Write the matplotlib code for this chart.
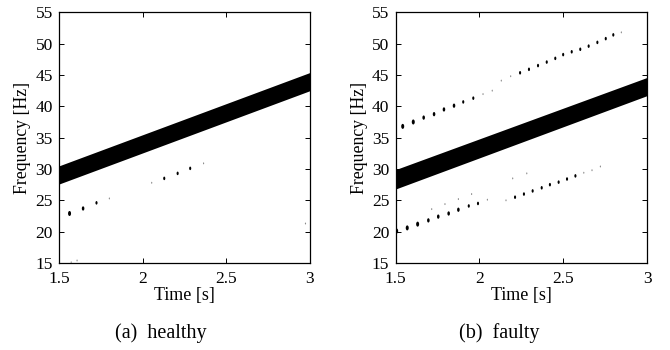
import numpy as np
import matplotlib
matplotlib.use("Agg")
import matplotlib.pyplot as plt
from matplotlib.markers import MarkerStyle
from matplotlib.transforms import Affine2D

plt.rcParams['font.family'] = ['Liberation Serif', 'DejaVu Serif']

# ---- data ----
band_t = [1.5, 3.0]
healthy_band_low = [27.6, 42.5]
healthy_band_high = [30.5, 45.4]
faulty_band_low = [26.8, 41.7]
faulty_band_high = [29.9, 44.6]

healthy_dot_t = [1.563, 1.644, 1.724, 1.801, 2.054, 2.129, 2.209, 2.284, 2.364, 1.573, 1.608, 2.973]
healthy_dot_f = [22.9, 23.7, 24.6, 25.3, 27.8, 28.5, 29.3, 30.1, 30.9, 15.1, 15.4, 21.3]
healthy_dot_amp = [4, 3, 2, 1, 1, 2, 2, 2, 1, 1, 1, 1]

faulty_upper_t = [1.543, 1.606, 1.668, 1.73, 1.789, 1.849, 1.904, 1.964, 2.022, 2.077, 2.131, 2.187,
                  2.243, 2.296, 2.35, 2.402, 2.453, 2.50, 2.551, 2.602, 2.652, 2.704, 2.754, 2.799, 2.847]
faulty_upper_f = [36.8, 37.5, 38.2, 38.75, 39.5, 40.1, 40.7, 41.3, 41.95, 42.5, 44.1, 44.8,
                  45.35, 45.9, 46.5, 47.06, 47.65, 48.25, 48.7, 49.1, 49.6, 50.2, 50.8, 51.4, 51.8]
faulty_upper_amp = [4, 4, 3, 3, 3, 3, 2, 2, 1, 1, 1, 1, 2, 2, 2, 2, 2, 2, 2, 2, 2, 2, 2, 2, 1]

faulty_lower_t = [1.507, 1.570, 1.632, 1.696, 1.755, 1.817, 1.875, 1.937, 1.992, 2.048, 2.159, 2.213,
                  2.266, 2.318, 2.372, 2.421, 2.473, 2.523, 2.573, 2.623, 2.672, 2.722]
faulty_lower_f = [20.1, 20.6, 21.2, 21.8, 22.4, 22.9, 23.5, 24.1, 24.5, 25.1, 25.0, 25.5,
                  26.0, 26.5, 27.0, 27.5, 27.9, 28.4, 28.9, 29.4, 29.8, 30.4]
faulty_lower_amp = [4, 4, 4, 3, 3, 3, 3, 2, 2, 1, 1, 2, 2, 2, 2, 2, 2, 2, 2, 1, 1, 1]

faulty_faint_t = [1.716, 1.795, 1.875, 1.954, 2.199, 2.283]
faulty_faint_f = [23.6, 24.4, 25.2, 26.0, 28.5, 29.3]
faulty_faint_amp = [1, 1, 1, 1, 1, 1]

xticks = [1.5, 2, 2.5, 3]
xticklabels = ["1.5", "2", "2.5", "3"]
yticks = [15, 20, 25, 30, 35, 40, 45, 50, 55]
captions = ["(a)  healthy", "(b)  faulty"]

# ---- style ----
size_map = {1: 2.0, 2: 6.5, 3: 9.5, 4: 13.0}
color_map = {1: '#8a8a8a', 2: 'black', 3: 'black', 4: 'black'}
ell = MarkerStyle('o', transform=Affine2D().scale(0.6, 1.0))


def draw_dots(ax, t, f, amp):
    s = [size_map[a] for a in amp]
    c = [color_map[a] for a in amp]
    ax.scatter(t, f, s=s, c=c, marker=ell, linewidths=0, zorder=3, clip_on=True)


fig = plt.figure(figsize=(6.7, 3.5), dpi=100)
ax1 = fig.add_axes([59 / 670, 1 - 263 / 350, (310 - 59) / 670, (263 - 12.3) / 350])
ax2 = fig.add_axes([395.5 / 670, 1 - 263 / 350, (647 - 395.5) / 670, (263 - 12.3) / 350])

ax1.fill_between(band_t, healthy_band_low, healthy_band_high, color='black', linewidth=0)
draw_dots(ax1, healthy_dot_t, healthy_dot_f, healthy_dot_amp)

ax2.fill_between(band_t, faulty_band_low, faulty_band_high, color='black', linewidth=0)
draw_dots(ax2, faulty_upper_t, faulty_upper_f, faulty_upper_amp)
draw_dots(ax2, faulty_lower_t, faulty_lower_f, faulty_lower_amp)
draw_dots(ax2, faulty_faint_t, faulty_faint_f, faulty_faint_amp)

for ax in (ax1, ax2):
    ax.set_xlim(1.5, 3)
    ax.set_ylim(15, 55)
    ax.set_xticks(xticks)
    ax.set_xticklabels(xticklabels)
    ax.set_yticks(yticks)
    ax.tick_params(direction='in', length=3.5, width=0.7, top=True, right=True,
                   labelsize=12.5, colors='black')
    ax.tick_params(axis='x', pad=6)
    ax.tick_params(axis='y', pad=4.5)
    for sp in ax.spines.values():
        sp.set_linewidth(0.9)
    ax.set_xlabel('Time [s]', fontsize=13, labelpad=0)
    ax.set_ylabel('Frequency [Hz]', fontsize=12.8, labelpad=3)

fig.text(161 / 670, 1 - 333 / 350, captions[0], ha='center', va='center', fontsize=14.5)
fig.text(499 / 670, 1 - 333 / 350, captions[1], ha='center', va='center', fontsize=14.5)

fig.savefig('out.png', dpi=100, facecolor='white')
